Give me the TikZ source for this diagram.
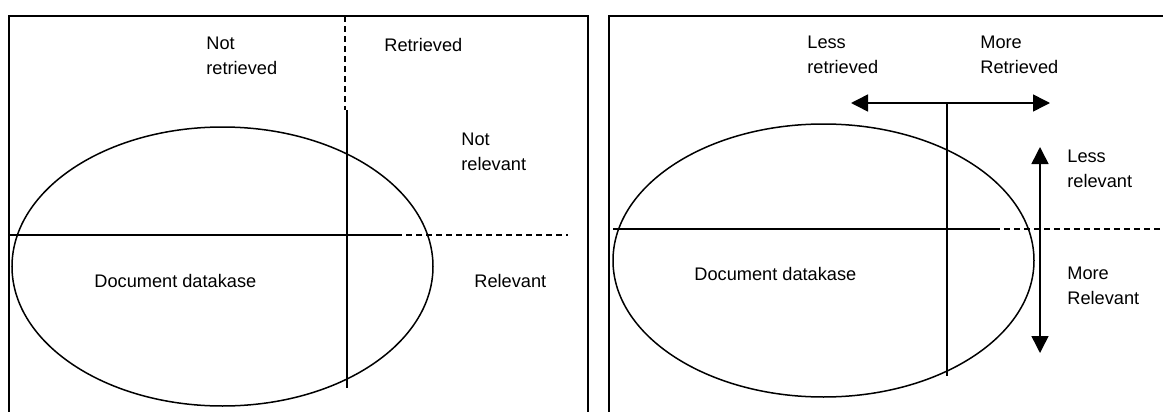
\documentclass[tikz,border=0pt]{standalone}
\usepackage{fontspec}
\setmainfont{Liberation Sans}
\usetikzlibrary{arrows.meta}

\begin{document}
\begin{tikzpicture}[x=0.5pt, y=-0.5pt, >={Triangle[length=8.5pt,width=8.5pt]},
 font=\fontsize{9.1}{12.3}\selectfont,
 frame/.style={draw, line width=1pt},
 axis/.style={draw, line width=.75pt},
 cut/.style={draw, line width=.75pt, dash pattern=on 3pt off 2pt},
 label/.style={anchor=base west, align=left, inner sep=0pt}]
\useasboundingbox (0,0) rectangle (1163,412);
% left panel
\draw[frame] (9,412) |- (588,16) -- (588,412);
\draw[axis] (222.5,266.5) ellipse [x radius=210.5, y radius=139.5];
\coordinate (lw) at (9,235);
\coordinate (lmid) at (396,235);
\coordinate (le) at (568,235);
\coordinate (ltop) at (345,16);
\coordinate (lbreak) at (347,110);
\coordinate (lbot) at (347,388);
\draw[axis] (lw) -- (lmid);
\draw[cut] (lmid) -- (le);
\draw[cut] (ltop) -- (345,110);
\draw[axis] (lbreak) -- (lbot);
\node[label] (notret) at (206,74) {Not\\retrieved};
\node[label] (ret) at (384,51) {Retrieved};
\node[label] (notrel) at (461,170) {Not\\relevant};
\node[label] (rel) at (474,287) {Relevant};
\node[label] (dbL) at (94,287) {Document datakase};
% right panel
\draw[frame] (609,412) |- (1163,16);
\draw[axis] (823.5,260.5) ellipse [x radius=210.5, y radius=136.5];
\coordinate (rw) at (613,229);
\coordinate (rmid) at (994,229);
\coordinate (re) at (1163,229);
\coordinate (rtop) at (947,103);
\coordinate (rbot) at (947,376);
\coordinate (aw) at (851,103);
\coordinate (ae) at (1050,103);
\coordinate (an) at (1040,147);
\coordinate (as) at (1040,353);
\draw[axis] (rw) -- (rmid);
\draw[cut] (rmid) -- (re);
\draw[axis] (rtop) -- (rbot);
\draw[axis,<->] (aw) -- (ae);
\draw[axis,<->] (an) -- (as);
\node[label] (lessret) at (807,73) {Less\\retrieved};
\node[label] (moreret) at (980,73) {More\\Retrieved};
\node[label] (lessrel) at (1067,187) {Less\\relevant};
\node[label] (morerel) at (1067,304) {More\\Relevant};
\node[label] (dbR) at (694,280) {Document datakase};
\end{tikzpicture}
\end{document}
